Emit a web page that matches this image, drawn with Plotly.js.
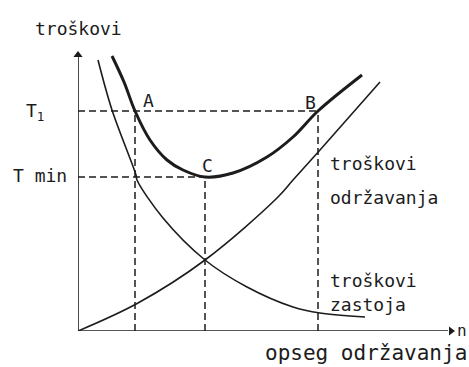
<!DOCTYPE html>
<html>
<head>
<meta charset="utf-8">
<script src="https://cdn.plot.ly/plotly-3.0.1.min.js"></script>
<style>
  body { margin: 0; background: #fff; }
  #plot { width: 469px; height: 367px; }
</style>
</head>
<body>
<div id="plot"></div>
<script>
// Curves (schematic units, origin at the axes corner)
let xZastoja = [20, 34, 58, 59, 85, 127, 169, 215, 242, 287];
let yZastoja = [271, 221, 156, 151, 113, 71, 44, 24, 18, 14];

let xOdrzavanja = [0, 60, 127, 199, 215, 242, 302];
let yOdrzavanja = [0, 28, 71, 133, 151, 181, 249];

let xUkupno = [34, 46, 57, 72, 89, 105, 127, 155, 189, 215, 240, 284];
let yUkupno = [275, 249, 220, 191, 171, 161, 154, 158, 174, 194, 220, 256];

// Marked points A, B, C on the total-cost curve
let pointNames = ['A', 'B', 'C'];
let pointX = [57, 240, 127];
let pointY = [220, 220, 154];

let levelLabels = ['T<sub>1</sub>', 'T min'];

const ink = '#1c1c1c';
const font = {family: 'DejaVu Sans Mono, monospace', size: 18, color: ink};
const XMAX = 380, YMAX = 280;

let data = [
    // axes
    {x: [0, 0], y: [0, 274], mode: 'lines', line: {color: ink, width: 1.6}},
    {x: [0, 370], y: [0, 0], mode: 'lines', line: {color: ink, width: 1.6}},
    // arrow heads at the axis ends
    {x: [0], y: [276], mode: 'markers', cliponaxis: false,
     marker: {symbol: 'triangle-up', size: 8, color: ink, line: {width: 0}}},
    {x: [373], y: [0], mode: 'markers', cliponaxis: false,
     marker: {symbol: 'triangle-right', size: 8, color: ink, line: {width: 0}}},
    {x: xZastoja, y: yZastoja, mode: 'lines', line: {color: ink, width: 1.6, shape: 'spline'}},
    {x: xOdrzavanja, y: yOdrzavanja, mode: 'lines', line: {color: ink, width: 1.6, shape: 'spline'}},
    {x: xUkupno, y: yUkupno, mode: 'lines', line: {color: ink, width: 3, shape: 'spline', smoothing: 1}},
];

// dashed guides: T1 level (A to B), Tmin level (to C), and verticals down from A, C, B
let dash = {color: ink, width: 1.5, dash: '7px,4px'};
data.push({x: [0, pointX[1]], y: [pointY[0], pointY[1]], mode: 'lines', line: dash});
data.push({x: [0, pointX[2]], y: [pointY[2], pointY[2]], mode: 'lines', line: dash});
pointX.forEach(function (px, i) {
    data.push({x: [px, px], y: [0, pointY[i]], mode: 'lines', line: dash});
});

// labels outside the plot area go in paper coordinates
function outside(x, y, text, extra) {
    return Object.assign({x: x / XMAX, y: y / YMAX, xref: 'paper', yref: 'paper',
                          xanchor: 'center', yanchor: 'middle',
                          text: text, showarrow: false, font: font}, extra || {});
}

let annotations = [
    outside(0, 303, 'troškovi'),
    outside(-43, 219, levelLabels[0]),
    outside(-38, 156, levelLabels[1]),
    {x: 70, y: 231, text: pointNames[0], showarrow: false, font: font},
    {x: 232, y: 229, text: pointNames[1], showarrow: false, font: font},
    {x: 129, y: 166, text: pointNames[2], showarrow: false, font: font},
    {x: 250, y: 168, text: 'troškovi', xanchor: 'left', showarrow: false, font: font},
    {x: 250, y: 134, text: 'održavanja', xanchor: 'left', showarrow: false, font: font},
    {x: 250, y: 51, text: 'troškovi', xanchor: 'left', showarrow: false, font: font},
    {x: 250, y: 27, text: 'zastoja', xanchor: 'left', showarrow: false, font: font},
    outside(391, -22, 'opseg održavanja', {xanchor: 'right',
        font: {family: font.family, size: 21, color: ink}}),
    outside(384, 1, 'n', {font: {family: font.family, size: 16, color: ink}}),
];

let layout = {
    width: 469,
    height: 367,
    margin: {l: 78, r: 11, t: 51, b: 36},
    showlegend: false,
    paper_bgcolor: '#fff',
    plot_bgcolor: '#fff',
    xaxis: {range: [0, XMAX], visible: false, fixedrange: true},
    yaxis: {range: [0, YMAX], visible: false, fixedrange: true},
    annotations: annotations,
};

Plotly.newPlot('plot', data, layout, {displayModeBar: false, staticPlot: true});
</script>
</body>
</html>
